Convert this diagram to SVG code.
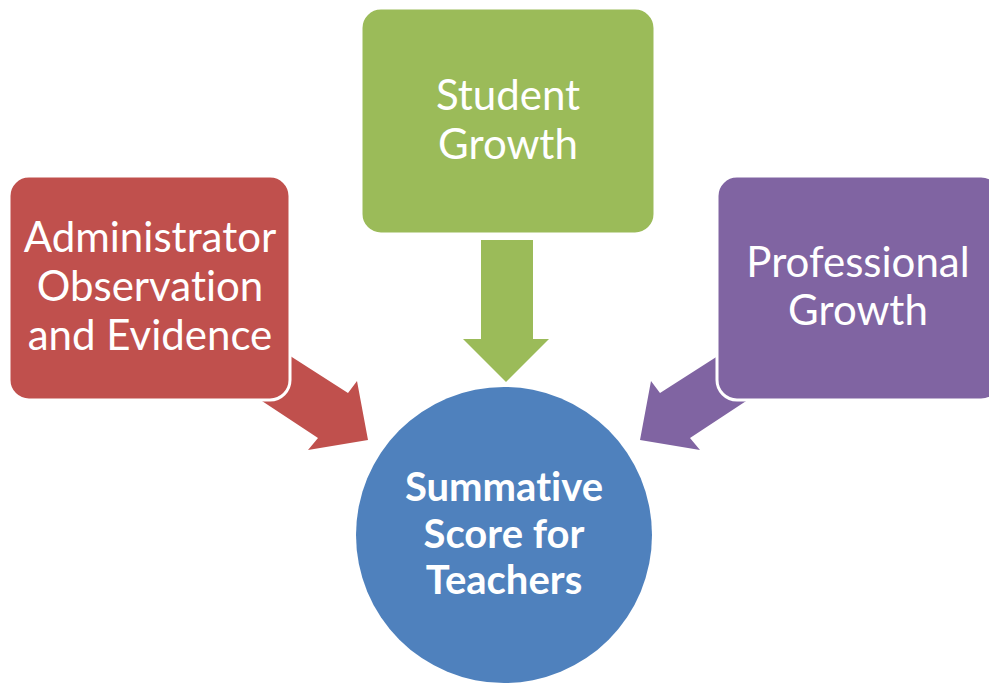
<svg xmlns="http://www.w3.org/2000/svg" width="989" height="683" viewBox="0 0 989 683">
<style>
.box{stroke:#ffffff;stroke-width:3}
.lbl{font-family:Lato,"Open Sans","Liberation Sans",sans-serif;font-size:42px;fill:#ffffff;text-anchor:middle;font-variant-ligatures:none;font-feature-settings:"liga" 0}
.blbl{font-family:Lato,"Open Sans","Liberation Sans",sans-serif;font-size:40px;font-weight:bold;fill:#ffffff;text-anchor:middle;font-variant-ligatures:none;font-feature-settings:"liga" 0}
</style>
<rect width="989" height="683" fill="#ffffff"/>
<g id="connectors">
  <polygon points="248,329 348,393 357,381 368,440 308,450 318,438 218,372" fill="#C0504D"/>
  <polygon points="481,240 533,240 533,339 549,339 506,382 463,339 481,339" fill="#9BBB59"/>
  <polygon points="760,329 660,393 651,381 640,440 700,450 690,438 790,372" fill="#8064A2"/>
</g>
<g id="admin">
  <rect class="box" x="9" y="176" width="281" height="224" rx="20" fill="#C0504D"/>
  <text class="lbl" x="150" y="252">Administrator</text>
  <text class="lbl" x="150" y="301">Observation</text>
  <text class="lbl" x="150" y="350">and Evidence</text>
</g>
<g id="student">
  <rect class="box" x="361" y="8" width="294" height="226" rx="20" fill="#9BBB59"/>
  <text class="lbl" x="508" y="110">Student</text>
  <text class="lbl" x="508" y="159">Growth</text>
</g>
<g id="professional">
  <rect class="box" x="717" y="176" width="284" height="224" rx="20" fill="#8064A2"/>
  <text class="lbl" x="858" y="277">Professional</text>
  <text class="lbl" x="858" y="325">Growth</text>
</g>
<g id="summative">
  <circle cx="504" cy="535" r="148" fill="#4F81BD"/>
  <text class="blbl" x="504" y="501">Summative</text>
  <text class="blbl" x="504" y="548">Score for</text>
  <text class="blbl" x="504" y="594">Teachers</text>
</g>
</svg>
